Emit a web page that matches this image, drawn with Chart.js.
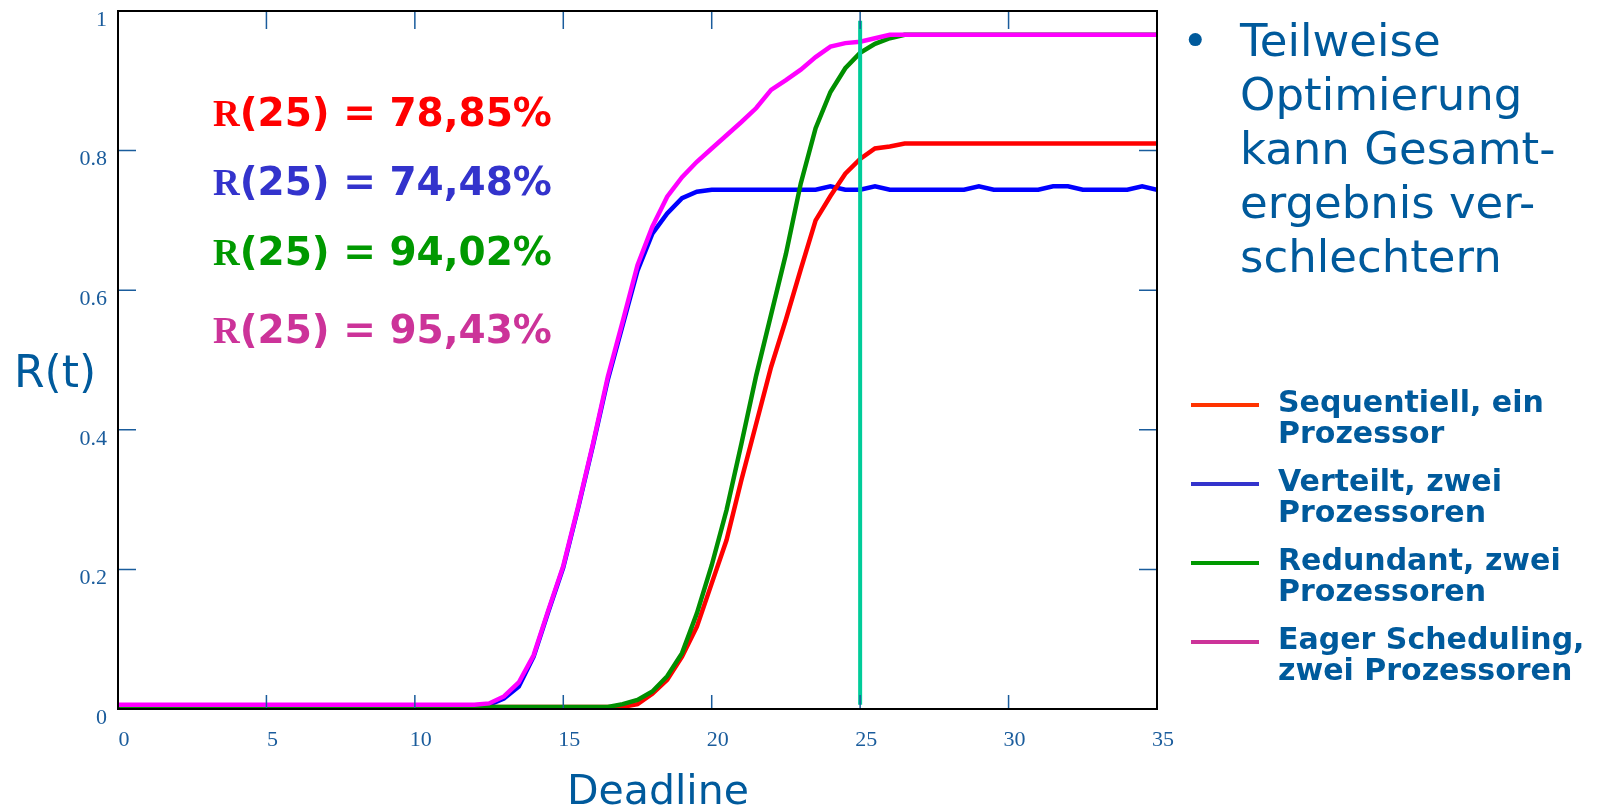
<!DOCTYPE html>
<html lang="de">
<head>
<meta charset="utf-8">
<title>R(t) über Deadline</title>
<script src="https://cdn.jsdelivr.net/npm/chart.js@4.4.1/dist/chart.umd.min.js"></script>
<style>
    body { margin: 0; background: #fff; }
    #wrap { position: relative; width: 1599px; height: 809px; overflow: hidden; }
    #chart { position: absolute; left: 0; top: 0; }
    .txt { position: absolute; font-family: "DejaVu Sans", Verdana, sans-serif; color: #005a9c; white-space: nowrap; }
    .anno { font-weight: bold; font-size: 39px; line-height: 39px; left: 213px; }
    .anno .r { font-family: "Liberation Serif", "Times New Roman", serif; font-size: 37px; }
    #bullet { left: 1240px; top: 14px; font-size: 45px; line-height: 54px; }
    #bullet .dot { position: absolute; left: -58px; top: 0; }
    #legend { position: absolute; left: 1191px; top: 386px; }
    .entry { position: relative; height: 79px; }
    .swatch { position: absolute; left: 0; top: 17px; width: 68px; height: 4px; }
    .entry .label { position: absolute; left: 87px; top: 0; font-family: "DejaVu Sans", Verdana, sans-serif; font-weight: bold; font-size: 30px; line-height: 31px; color: #005a9c; white-space: pre; }
</style>
</head>
<body>
<div id="wrap">
    <canvas id="chart" width="1599" height="809"></canvas>
    <div class="txt" id="ytitle" style="left:14px; top:350px; font-size:44px; line-height:44px;">R(t)</div>
    <div class="txt" id="xtitle" style="left:567px; top:770px; font-size:41px; line-height:41px;">Deadline</div>
    <div class="txt" id="bullet"><span class="dot">•</span>Teilweise<br>Optimierung<br>kann Gesamt-<br>ergebnis ver-<br>schlechtern</div>
    <div id="annotations"></div>
    <div id="legend"></div>
</div>
<script>
//deadline values on the x axis (step 0.5)
const deadlines = [
    0, 0.5, 1, 1.5, 2, 2.5, 3, 3.5, 4, 4.5,
    5, 5.5, 6, 6.5, 7, 7.5, 8, 8.5, 9, 9.5,
    10, 10.5, 11, 11.5, 12, 12.5, 13, 13.5, 14, 14.5,
    15, 15.5, 16, 16.5, 17, 17.5, 18, 18.5, 19, 19.5,
    20, 20.5, 21, 21.5, 22, 22.5, 23, 23.5, 24, 24.5,
    25, 25.5, 26, 26.5, 27, 27.5, 28, 28.5, 29, 29.5,
    30, 30.5, 31, 31.5, 32, 32.5, 33, 33.5, 34, 34.5,
    35
];
//sequentiell, ein prozessor
const sequentiell = [
    0.003, 0.003, 0.003, 0.003, 0.003, 0.003, 0.003, 0.003, 0.003, 0.003,
    0.003, 0.003, 0.003, 0.003, 0.003, 0.003, 0.003, 0.003, 0.003, 0.003,
    0.003, 0.003, 0.003, 0.003, 0.003, 0.003, 0.003, 0.003, 0.003, 0.003,
    0.003, 0.003, 0.003, 0.003, 0.003, 0.007, 0.022, 0.042, 0.075, 0.118,
    0.18, 0.242, 0.328, 0.409, 0.49, 0.558, 0.63, 0.70, 0.735, 0.767,
    0.788, 0.803, 0.806, 0.81, 0.81, 0.81, 0.81, 0.81, 0.81, 0.81,
    0.81, 0.81, 0.81, 0.81, 0.81, 0.81, 0.81, 0.81, 0.81, 0.81,
    0.81
];
//verteilt, zwei prozessoren
const verteilt = [
    0.005, 0.005, 0.005, 0.005, 0.005, 0.005, 0.005, 0.005, 0.005, 0.005,
    0.005, 0.005, 0.005, 0.005, 0.005, 0.005, 0.005, 0.005, 0.005, 0.005,
    0.005, 0.005, 0.005, 0.005, 0.005, 0.006, 0.015, 0.032, 0.075, 0.14,
    0.203, 0.288, 0.378, 0.472, 0.55, 0.628, 0.681, 0.71, 0.732, 0.741,
    0.744, 0.744, 0.744, 0.744, 0.744, 0.744, 0.744, 0.744, 0.749, 0.744,
    0.744, 0.749, 0.744, 0.744, 0.744, 0.744, 0.744, 0.744, 0.749, 0.744,
    0.744, 0.744, 0.744, 0.749, 0.749, 0.744, 0.744, 0.744, 0.744, 0.749,
    0.744
];
//redundant, zwei prozessoren
const redundant = [
    0.003, 0.003, 0.003, 0.003, 0.003, 0.003, 0.003, 0.003, 0.003, 0.003,
    0.003, 0.003, 0.003, 0.003, 0.003, 0.003, 0.003, 0.003, 0.003, 0.003,
    0.003, 0.003, 0.003, 0.003, 0.003, 0.003, 0.003, 0.003, 0.003, 0.003,
    0.003, 0.003, 0.003, 0.003, 0.007, 0.013, 0.025, 0.047, 0.08, 0.137,
    0.206, 0.285, 0.38, 0.478, 0.565, 0.652, 0.753, 0.832, 0.884, 0.918,
    0.94, 0.953, 0.961, 0.966, 0.966, 0.966, 0.966, 0.966, 0.966, 0.966,
    0.966, 0.966, 0.966, 0.966, 0.966, 0.966, 0.966, 0.966, 0.966, 0.966,
    0.966
];
//eager scheduling, zwei prozessoren
const eager = [
    0.006, 0.006, 0.006, 0.006, 0.006, 0.006, 0.006, 0.006, 0.006, 0.006,
    0.006, 0.006, 0.006, 0.006, 0.006, 0.006, 0.006, 0.006, 0.006, 0.006,
    0.006, 0.006, 0.006, 0.006, 0.006, 0.008, 0.018, 0.038, 0.077, 0.142,
    0.205, 0.29, 0.38, 0.476, 0.555, 0.636, 0.691, 0.734, 0.762, 0.784,
    0.803, 0.822, 0.841, 0.861, 0.887, 0.901, 0.916, 0.934, 0.949, 0.954,
    0.956, 0.961, 0.966, 0.966, 0.966, 0.966, 0.966, 0.966, 0.966, 0.966,
    0.966, 0.966, 0.966, 0.966, 0.966, 0.966, 0.966, 0.966, 0.966, 0.966,
    0.966
];
//vertical marker at deadline 25
const markerDeadline = 25;
const markerRange = [0.006, 0.986];

//series names, colours and R(25) values (same order everywhere)
const seriesNames = ['Sequentiell, ein\nProzessor', 'Verteilt, zwei\nProzessoren', 'Redundant, zwei\nProzessoren', 'Eager Scheduling,\nzwei Prozessoren'];
const seriesValues = [sequentiell, verteilt, redundant, eager];
const lineColors = ['#ff0000', '#0000ff', '#008f00', '#ff00ff'];
const legendColors = ['#ff3300', '#3333cc', '#009900', '#cc3399'];
const annoColors = ['#ff0000', '#3333cc', '#009900', '#cc3399'];
const r25 = [78.85, 74.48, 94.02, 95.43];
const drawOrder = [3, 4, 2, 1];
//axis ticks
const xTickStep = 5;
const yTickStep = 0.2;

const tickColor = '#1a5c9c';

//draws the black frame and the small inward tick marks
const frameTicks = {
    id: 'frameTicks',
    afterDatasetsDraw(chart) {
        const { ctx, chartArea: a, scales } = chart;
        const x = scales.x, y = scales.y;
        ctx.save();
        ctx.strokeStyle = tickColor;
        ctx.lineWidth = 1.5;
        ctx.beginPath();
        x.ticks.forEach(t => {
            const px = x.getPixelForValue(t.value);
            ctx.moveTo(px, a.bottom); ctx.lineTo(px, a.bottom - 14);
            ctx.moveTo(px, a.top); ctx.lineTo(px, a.top + 18);
        });
        y.ticks.forEach(t => {
            const py = y.getPixelForValue(t.value);
            ctx.moveTo(a.left, py); ctx.lineTo(a.left + 18, py);
            ctx.moveTo(a.right, py); ctx.lineTo(a.right - 18, py);
        });
        ctx.stroke();
        ctx.strokeStyle = '#000';
        ctx.lineWidth = 2;
        ctx.strokeRect(a.left, a.top, a.right - a.left, a.bottom - a.top);
        ctx.restore();
    }
};

//build line datasets from the arrays
const datasets = seriesValues.map((vals, i) => ({
    label: seriesNames[i].replace('\n', ' '),
    data: vals,
    borderColor: lineColors[i],
    borderWidth: 4.5,
    pointRadius: 0,
    tension: 0,
    fill: false,
    order: drawOrder[i]
}));
datasets.push({
    label: 'Deadline 25',
    data: [{ x: markerDeadline, y: markerRange[0] }, { x: markerDeadline, y: markerRange[1] }],
    borderColor: '#00cc99',
    borderWidth: 4,
    pointRadius: 0,
    fill: false,
    order: 0
});

const tickFont = { family: '"Liberation Serif", "Times New Roman", serif', size: 22 };

new Chart(document.getElementById('chart'), {
    type: 'line',
    data: { labels: deadlines, datasets: datasets },
    options: {
        responsive: false,
        animation: false,
        layout: { padding: { top: 11, right: 442, left: 0, bottom: 0 } },
        plugins: { legend: { display: false }, tooltip: { enabled: false } },
        scales: {
            x: {
                type: 'linear',
                min: 0,
                max: 35,
                grid: { display: false, drawTicks: false },
                border: { display: false },
                ticks: { stepSize: xTickStep, font: tickFont, color: tickColor, padding: 18, labelOffset: 6, maxRotation: 0, autoSkip: false },
                afterFit(scale) { scale.height = 100; scale.paddingLeft = 0; scale.paddingRight = 0; }
            },
            y: {
                min: 0,
                max: 1,
                grid: { display: false, drawTicks: false },
                border: { display: false },
                ticks: {
                    stepSize: yTickStep, font: tickFont, color: tickColor, padding: 11, labelOffset: 9,
                    callback: v => String(Number(v.toFixed(1)))
                },
                afterFit(scale) { scale.width = 118; scale.paddingTop = 0; scale.paddingBottom = 0; }
            }
        }
    },
    plugins: [frameTicks]
});

//R(25) annotations in the plot
const annoTops = [93, 162, 232, 310];
const annoBox = document.getElementById('annotations');
r25.forEach((v, i) => {
    const div = document.createElement('div');
    div.className = 'txt anno';
    div.style.top = annoTops[i] + 'px';
    div.style.color = annoColors[i];
    div.innerHTML = `<span class="r">R</span>(25) = ${v.toFixed(2).replace('.', ',')}%`;
    annoBox.appendChild(div);
});

//legend on the right
const legendBox = document.getElementById('legend');
seriesNames.forEach((name, i) => {
    const entry = document.createElement('div');
    entry.className = 'entry';
    entry.innerHTML = `<div class="swatch" style="background:${legendColors[i]}"></div><div class="label"></div>`;
    entry.querySelector('.label').textContent = name;
    legendBox.appendChild(entry);
});
</script>
</body>
</html>
